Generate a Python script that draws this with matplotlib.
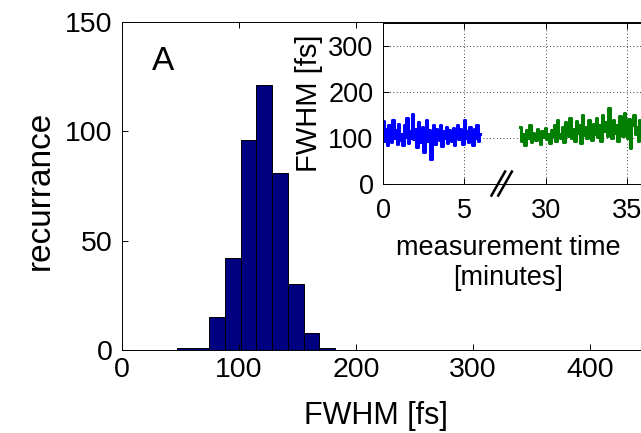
import numpy as np
import matplotlib
matplotlib.use("Agg")
import matplotlib.pyplot as plt

plt.rcParams['font.family'] = ['Liberation Sans', 'DejaVu Sans']

# histogram of pulse widths
bin_edges = [47.3, 60.8, 74.3, 87.8, 101.3, 114.8, 128.3, 141.8, 155.3, 168.8, 182.3]
counts = [1, 1, 15, 42, 96, 121, 81, 30, 8, 1]

# inset: FWHM vs measurement time (two sessions)
t_first = (0.0, 5.95)        # minutes
t_second = (28.45, 36.0)     # minutes
axis_gap = 20                # minutes cut out of the inset time axis

fwhm_first = [138, 95, 120, 85, 130, 105, 92, 140, 100, 118, 88, 132, 97, 110, 85, 128,
              102, 145, 90, 115, 100, 152, 98, 120, 82, 135, 105, 92, 125, 70, 110, 140,
              95, 118, 55, 100, 130, 88, 120, 105, 96, 128, 84, 115, 100, 125, 90, 118,
              104, 95, 122, 86, 112, 130, 98, 120, 105, 88, 140, 100, 115, 92, 125, 108,
              85, 120, 100, 130, 95, 110]
fwhm_second = [125, 95, 110, 85, 118, 100, 128, 92, 112, 105, 96, 120, 100, 88, 115, 104,
               122, 98, 110, 90, 118, 105, 130, 95, 140, 110, 100, 125, 92, 135, 115, 105,
               145, 100, 120, 95, 138, 112, 128, 90, 150, 108, 125, 100, 140, 118, 96, 132,
               110, 145, 102, 128, 95, 150, 115, 135, 105, 165, 120, 100, 140, 112, 130, 95,
               148, 118, 105, 155, 125, 100, 142, 80, 130, 150, 110, 125, 95, 140, 118, 130]

inset_ticks = [0, 5, 30, 35]

W, H = 641, 433
fig = plt.figure(figsize=(W / 100, H / 100), dpi=100)


def px_axes(left, right, top, bottom):
    return fig.add_axes([left / W, 1 - bottom / H, (right - left) / W, (bottom - top) / H])


# main histogram
ax = px_axes(122, 707, 22, 350)
widths = np.diff(bin_edges)
ax.bar(bin_edges[:-1], counts, width=widths, align='edge',
       color='#000080', edgecolor='black', linewidth=0.7)
ax.set_xlim(0, 500)
ax.set_ylim(0, 150)
ax.set_xticks([0, 100, 200, 300, 400])
ax.set_yticks([0, 50, 100, 150])
ax.tick_params(direction='in', length=4, width=0.7, labelsize=20.5,
               top=True, right=True, pad=7)
ax.tick_params(axis='x', pad=5)
for s in ax.spines.values():
    s.set_linewidth(0.7)
ax.set_xlabel("FWHM [fs]", fontsize=22)
ax.xaxis.set_label_coords(0.434, -0.202)
ax.xaxis.label.set_va('center')
ax.set_ylabel("recurrance", fontsize=24)
ax.yaxis.set_label_coords(-0.140, 0.488)
ax.yaxis.label.set_va('center')
ax.text(0.070, 0.880, "A", transform=ax.transAxes, fontsize=24,
        ha='center', va='center')

# inset
ins = px_axes(383.3, 708, 23, 184.5)
t1 = np.linspace(t_first[0], t_first[1], len(fwhm_first))
t2 = np.linspace(t_second[0], t_second[1], len(fwhm_second)) - axis_gap
ins.plot(t1, fwhm_first, color='#0000ff', linewidth=2.2, drawstyle='steps-mid')
ins.plot(t2, fwhm_second, color='#007f00', linewidth=2.2, drawstyle='steps-mid')
ins.set_xlim(0, 20)
ins.set_ylim(0, 350)
tick_pos = [v if v < 10 else v - axis_gap for v in inset_ticks]
ins.set_xticks(tick_pos)
ins.set_xticklabels([str(v) for v in inset_ticks])
ins.set_yticks([0, 100, 200, 300])
ins.tick_params(direction='in', length=4, width=0.7, labelsize=19.5,
                top=True, right=True, pad=7)
ins.tick_params(axis='x', pad=10)
ins.grid(True, color='black', linestyle=(0, (1, 3)), linewidth=0.6)
for s in ins.spines.values():
    s.set_linewidth(0.7)
ins.set_xlabel("measurement time\n[minutes]", fontsize=19.5, linespacing=1.2)
ins.xaxis.set_label_coords(0.384, -0.489)
ins.xaxis.label.set_va('center')
ins.set_ylabel("FWHM [fs]", fontsize=21)
ins.yaxis.set_label_coords(-0.229, 0.505)
ins.yaxis.label.set_va('center')

# axis break marks "//"
br = 7.3
for dx in (-0.22, 0.2):
    ins.plot([br + dx - 0.42, br + dx + 0.42], [-24, 28], color='black',
             linewidth=1.8, clip_on=False)

fig.savefig("out.png", dpi=100)
